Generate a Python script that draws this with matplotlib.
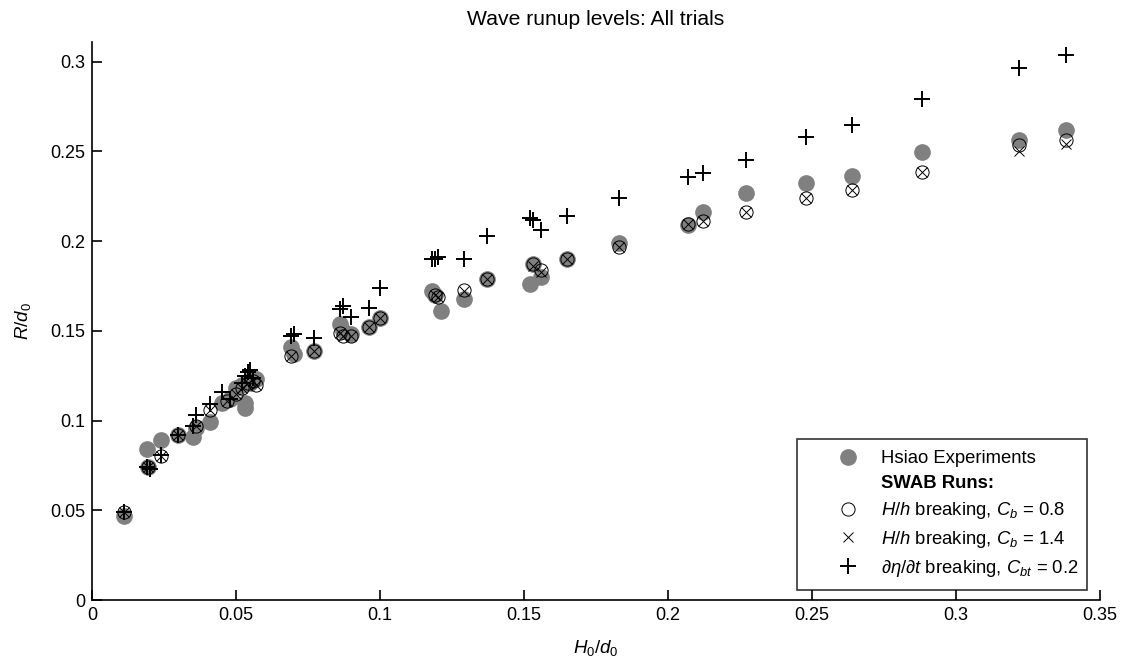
import matplotlib
matplotlib.use("Agg")
import matplotlib.pyplot as plt
from matplotlib.lines import Line2D

plt.rcParams["font.family"] = ["Liberation Sans", "DejaVu Sans"]
plt.rcParams["mathtext.fontset"] = "custom"
plt.rcParams["mathtext.rm"] = "Liberation Sans"
plt.rcParams["mathtext.it"] = "Liberation Sans:italic"
plt.rcParams["mathtext.bf"] = "Liberation Sans:bold"

# Hsiao experiments (grey dots)
hsiao_x = [0.011, 0.019, 0.0196, 0.024, 0.030, 0.035, 0.036, 0.041, 0.045, 0.048,
           0.050, 0.052, 0.053, 0.053, 0.054, 0.055, 0.056, 0.057, 0.069, 0.070,
           0.077, 0.086, 0.087, 0.090, 0.096, 0.100, 0.118, 0.119, 0.121, 0.129,
           0.137, 0.152, 0.153, 0.156, 0.165, 0.183, 0.207, 0.212, 0.227, 0.248,
           0.264, 0.288, 0.322, 0.338]
hsiao_y = [0.047, 0.084, 0.074, 0.089, 0.092, 0.091, 0.096, 0.099, 0.110, 0.112,
           0.118, 0.120, 0.110, 0.107, 0.122, 0.121, 0.124, 0.123, 0.141, 0.137,
           0.139, 0.154, 0.150, 0.148, 0.152, 0.157, 0.172, 0.170, 0.161, 0.168,
           0.179, 0.176, 0.187, 0.180, 0.190, 0.199, 0.209, 0.216, 0.227, 0.2325,
           0.2365, 0.2496, 0.2564, 0.262]

# SWAB, H/h breaking, Cb = 0.8 (open circles)
cb08_x = [0.011, 0.0196, 0.024, 0.030, 0.036, 0.041, 0.047, 0.050, 0.052, 0.054,
          0.056, 0.057, 0.069, 0.077, 0.086, 0.087, 0.090, 0.096, 0.100, 0.119,
          0.120, 0.129, 0.137, 0.153, 0.156, 0.165, 0.183, 0.207, 0.212, 0.227,
          0.248, 0.264, 0.288, 0.322, 0.338]
cb08_y = [0.049, 0.074, 0.080, 0.092, 0.097, 0.106, 0.111, 0.115, 0.118, 0.121,
          0.122, 0.120, 0.136, 0.139, 0.149, 0.147, 0.147, 0.152, 0.157, 0.170,
          0.169, 0.173, 0.179, 0.187, 0.184, 0.190, 0.197, 0.2097, 0.2115, 0.2165,
          0.224, 0.2286, 0.2384, 0.2538, 0.2564]

# SWAB, H/h breaking, Cb = 1.4 (crosses)
cb14_x = cb08_x
cb14_y = [0.049, 0.074, 0.080, 0.092, 0.097, 0.106, 0.111, 0.115, 0.118, 0.121,
          0.122, 0.120, 0.136, 0.139, 0.149, 0.147, 0.147, 0.152, 0.157, 0.170,
          0.169, 0.172, 0.179, 0.186, 0.183, 0.190, 0.197, 0.2097, 0.2115, 0.2165,
          0.224, 0.2286, 0.2384, 0.2500, 0.2540]

# SWAB, d(eta)/dt breaking, Cbt = 0.2 (plus)
cbt_x = [0.011, 0.019, 0.020, 0.024, 0.030, 0.035, 0.036, 0.041, 0.045, 0.048,
         0.052, 0.053, 0.054, 0.055, 0.056, 0.069, 0.070, 0.077, 0.086, 0.087,
         0.090, 0.096, 0.100, 0.118, 0.119, 0.120, 0.129, 0.137, 0.152, 0.153,
         0.156, 0.165, 0.183, 0.207, 0.212, 0.227, 0.248, 0.264, 0.288, 0.322,
         0.338]
cbt_y = [0.049, 0.074, 0.073, 0.081, 0.092, 0.097, 0.103, 0.109, 0.116, 0.112,
         0.121, 0.125, 0.127, 0.128, 0.124, 0.147, 0.148, 0.146, 0.162, 0.164,
         0.158, 0.163, 0.174, 0.190, 0.190, 0.191, 0.190, 0.203, 0.213, 0.212,
         0.206, 0.214, 0.224, 0.236, 0.238, 0.245, 0.258, 0.265, 0.279, 0.2965,
         0.304]

xticks = [0, 0.05, 0.1, 0.15, 0.2, 0.25, 0.3, 0.35]
yticks = [0, 0.05, 0.1, 0.15, 0.2, 0.25, 0.3]

fig = plt.figure(figsize=(11.26, 6.59), dpi=100)
ax = fig.add_axes([0.0817, 0.0895, 0.8953, 0.8468])

grey = "#808080"
ax.plot(hsiao_x, hsiao_y, "o", ms=11, color=grey, mec=grey, zorder=2)
ax.plot(cb08_x, cb08_y, "o", ms=9.5, mfc="none", mec="black", mew=0.7, zorder=3)
ax.plot(cb14_x, cb14_y, "x", ms=7, color="black", mew=0.7, zorder=4)
ax.plot(cbt_x, cbt_y, "+", ms=12, color="black", mew=1.4, zorder=5)

ax.set_xlim(0, 0.35)
ax.set_ylim(0, 0.311)
ax.set_xticks(xticks)
ax.set_xticklabels(["0" if t == 0 else f"{t:g}" for t in xticks])
ax.set_yticks(yticks)
ax.set_yticklabels(["0" if t == 0 else f"{t:g}" for t in yticks])
ax.spines["top"].set_visible(False)
ax.spines["right"].set_visible(False)
for s in ("left", "bottom"):
    ax.spines[s].set_linewidth(1.2)
ax.tick_params(direction="in", length=7, width=1.2, labelsize=13, pad=5)

ax.set_title("Wave runup levels: All trials", fontsize=15.2, pad=12)
ax.set_xlabel(r"$H_0/d_0$", fontsize=13.5, labelpad=10)
ax.set_ylabel(r"$R/d_0$", fontsize=13.5, labelpad=12)

handles = [
    Line2D([], [], ls="none", marker="o", ms=11, color=grey),
    Line2D([], [], ls="none"),
    Line2D([], [], ls="none", marker="o", ms=9.5, mfc="none", mec="black", mew=0.7),
    Line2D([], [], ls="none", marker="x", ms=7, color="black", mew=0.7),
    Line2D([], [], ls="none", marker="+", ms=12, color="black", mew=1.4),
]
labels = [
    "Hsiao Experiments",
    "SWAB Runs:",
    r"$H/h$ breaking, $C_b$ = 0.8",
    r"$H/h$ breaking, $C_b$ = 1.4",
    r"$\partial\eta/\partial t$ breaking, $C_{bt}$ = 0.2",
]
leg = ax.legend(handles, labels, loc="lower left", bbox_to_anchor=(0.699, 0.018, 0.288, 0.27),
                mode="expand", fontsize=13.3, frameon=True, fancybox=False,
                edgecolor="black", borderpad=0.6, labelspacing=0.43,
                handletextpad=-0.45, handlelength=4.4, borderaxespad=0)
leg.get_frame().set_linewidth(1.2)
leg.get_texts()[1].set_fontweight("bold")

fig.savefig("out.png", dpi=100)
